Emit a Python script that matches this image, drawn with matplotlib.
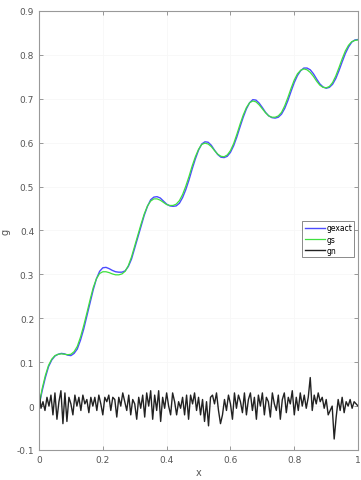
import numpy as np
import matplotlib
matplotlib.use("Agg")
import matplotlib.pyplot as plt

# smooth curves, sampled every 0.01 on [0, 1]
x_curve = np.linspace(0, 1, 101)
g_exact = [0.0, 0.035, 0.065, 0.09, 0.105, 0.114, 0.118, 0.12, 0.119, 0.116,
           0.115, 0.12, 0.13, 0.15, 0.175, 0.205, 0.235, 0.265, 0.29, 0.307,
           0.315, 0.316, 0.313, 0.309, 0.306, 0.305, 0.305, 0.308, 0.318, 0.335,
           0.36, 0.385, 0.41, 0.435, 0.455, 0.47, 0.476, 0.477, 0.474, 0.467,
           0.46, 0.456, 0.455, 0.456, 0.462, 0.475, 0.493, 0.515, 0.54, 0.563,
           0.583, 0.597, 0.602, 0.601, 0.594, 0.583, 0.573, 0.567, 0.566, 0.569,
           0.578, 0.593, 0.613, 0.636, 0.658, 0.677, 0.691, 0.698, 0.697, 0.69,
           0.68, 0.669, 0.661, 0.657, 0.656, 0.658, 0.665, 0.678, 0.696, 0.717,
           0.737, 0.753, 0.764, 0.77, 0.77, 0.766, 0.757, 0.745, 0.734, 0.727,
           0.724, 0.726, 0.733, 0.746, 0.764, 0.784, 0.803, 0.818, 0.829, 0.834,
           0.835]
g_s = [0.0, 0.04, 0.07, 0.093, 0.107, 0.115, 0.118, 0.119, 0.118, 0.117,
       0.118, 0.124, 0.136, 0.157, 0.183, 0.212, 0.242, 0.27, 0.29, 0.302,
       0.306, 0.306, 0.304, 0.301, 0.299, 0.299, 0.301, 0.307, 0.32, 0.34,
       0.365, 0.39, 0.415, 0.438, 0.456, 0.467, 0.472, 0.472, 0.469, 0.464,
       0.459, 0.457, 0.457, 0.46, 0.468, 0.482, 0.501, 0.523, 0.547, 0.568,
       0.585, 0.596, 0.599, 0.597, 0.591, 0.582, 0.574, 0.569, 0.568, 0.572,
       0.582, 0.598, 0.619, 0.642, 0.663, 0.68, 0.691, 0.695, 0.693, 0.686,
       0.677, 0.668, 0.661, 0.658, 0.658, 0.661, 0.669, 0.684, 0.703, 0.724,
       0.743, 0.757, 0.765, 0.768, 0.766, 0.76, 0.751, 0.74, 0.731, 0.726,
       0.725, 0.728, 0.737, 0.752, 0.771, 0.791, 0.809, 0.822, 0.83, 0.833,
       0.834]

# noise, sampled every 1/160 on [0, 1]
x_noise = np.linspace(0, 1, 161)
g_n = [0.035, -0.005, 0.01, -0.01, 0.02, 0.0, 0.025, -0.02, 0.03, -0.03,
       0.01, 0.035, -0.04, 0.03, -0.035, 0.02, 0.005, -0.02, 0.025, 0.0,
       0.02, -0.01, 0.025, 0.005, 0.015, -0.015, 0.02, 0.0, 0.02, -0.01,
       0.025, 0.005, -0.02, 0.02, 0.01, 0.025, -0.01, 0.02, 0.015, -0.025,
       0.02, 0.0, 0.03, 0.01, -0.01, 0.025, -0.02, 0.015, 0.005, -0.03,
       0.02, -0.005, 0.025, -0.025, 0.03, 0.0, 0.035, -0.03, 0.025, -0.01,
       0.035, -0.035, 0.02, -0.005, 0.03, 0.0, -0.02, 0.03, 0.01, -0.02,
       0.01, -0.005, 0.02, -0.02, 0.025, -0.03, 0.025, 0.005, 0.03, -0.01,
       0.02, -0.02, 0.015, -0.035, 0.01, -0.045, 0.02, 0.025, 0.005, 0.03,
       -0.01, -0.04, -0.02, 0.015, -0.01, 0.025, 0.005, -0.03, 0.03, -0.005,
       0.025, 0.01, -0.015, 0.03, -0.02, 0.015, 0.03, -0.01, 0.02, -0.03,
       0.025, 0.0, 0.03, -0.02, 0.02, 0.01, -0.025, 0.03, 0.005, -0.01,
       0.025, -0.03, 0.015, 0.03, -0.015, 0.02, 0.005, 0.035, -0.02, 0.02,
       -0.01, 0.03, 0.0, 0.025, -0.005, 0.02, 0.065, -0.01, 0.025, 0.005,
       0.03, 0.01, 0.02, -0.005, 0.015, -0.02, -0.01, 0.0, -0.075, -0.025,
       0.015, -0.01, 0.02, -0.015, 0.01, 0.0, 0.015, -0.005, 0.01, 0.005,
       0.0]

x_ticks = [0, 0.2, 0.4, 0.6, 0.8, 1]
x_ticklabels = ["0", "0.2", "0.4", "0.6", "0.8", "1"]
y_ticks = [-0.1, 0, 0.1, 0.2, 0.3, 0.4, 0.5, 0.6, 0.7, 0.8, 0.9]
y_ticklabels = ["-0.1", "0", "0.1", "0.2", "0.3", "0.4", "0.5", "0.6", "0.7", "0.8", "0.9"]

fig = plt.figure(figsize=(3.61, 4.81), dpi=100)
ax = fig.add_axes([0.108, 0.0624, 0.884, 0.9127])

ax.plot(x_curve, g_exact, color="#4b4bff", lw=1.0, label="gexact")
ax.plot(x_curve, g_s, color="#3fe03f", lw=0.9, label="gs")
ax.plot(x_noise, g_n, color="#222222", lw=1.0, label="gn")

ax.set_xlim(0, 1)
ax.set_ylim(-0.1, 0.9)
ax.set_xticks(x_ticks)
ax.set_xticklabels(x_ticklabels)
ax.set_yticks(y_ticks)
ax.set_yticklabels(y_ticklabels)
ax.tick_params(direction="in", length=3, width=0.6, labelsize=6.5,
               colors="#888888", labelcolor="#555555", top=True, right=True)
ax.grid(color="#f7f7f7", lw=0.6)
for s in ax.spines.values():
    s.set_color("#999999")
    s.set_linewidth(0.8)

ax.set_xlabel("x", fontsize=7, color="#555555", labelpad=2)
ax.set_ylabel("g", fontsize=7, color="#555555", labelpad=4)

leg = ax.legend(loc="upper right", bbox_to_anchor=(1.0, 0.53), fontsize=5.5,
                frameon=True, fancybox=False, handlelength=2.6, borderpad=0.3,
                labelspacing=0.3, handletextpad=0.2)
leg.get_frame().set_edgecolor("#555555")
leg.get_frame().set_linewidth(0.6)

fig.savefig("out.png", dpi=100)
